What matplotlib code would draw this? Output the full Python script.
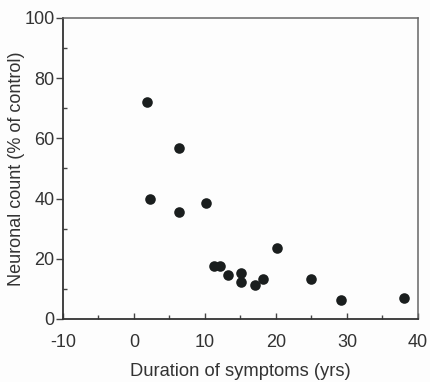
import matplotlib
matplotlib.use("Agg")
import matplotlib.pyplot as plt
from matplotlib.ticker import MultipleLocator

plt.rcParams['font.family'] = ['Liberation Sans', 'DejaVu Sans']
plt.rcParams['axes.unicode_minus'] = False

duration = [1.8, 2.3, 6.4, 6.4, 10.1, 11.3, 12.1, 13.2, 15.1, 15.1, 17.0, 18.2, 20.1, 25.0, 29.1, 38.1]
neuronal = [72.0, 39.8, 56.8, 35.5, 38.6, 17.6, 17.6, 14.6, 15.4, 12.3, 11.3, 13.2, 23.5, 13.2, 6.3, 6.9]

fig = plt.figure(figsize=(4.30, 3.82), dpi=100)
fig.patch.set_facecolor('#fdfdfd')
ax = fig.add_axes([0.1465, 0.165, 0.8255, 0.788])
ax.set_facecolor('#fdfdfd')

ax.scatter(duration, neuronal, s=58, color='#1a1e1e', zorder=3, linewidths=0)

ax.set_xlim(-10, 40)
ax.set_ylim(0, 100)
ax.xaxis.set_major_locator(MultipleLocator(10))
ax.xaxis.set_minor_locator(MultipleLocator(5))
ax.yaxis.set_major_locator(MultipleLocator(20))
ax.yaxis.set_minor_locator(MultipleLocator(10))

for s in ['left', 'bottom']:
    ax.spines[s].set_color('#333333')
    ax.spines[s].set_linewidth(1.3)
for s in ['top', 'right']:
    ax.spines[s].set_color('#666666')
    ax.spines[s].set_linewidth(1.1)

ax.tick_params(axis='x', which='major', direction='in', length=4, width=1, color='#444444',
               labelsize=13, labelcolor='#333333', pad=11)
ax.tick_params(axis='x', which='minor', direction='in', length=3, width=1, color='#444444')
ax.tick_params(axis='y', which='major', direction='out', length=5, width=1, color='#444444',
               labelsize=13, labelcolor='#333333', pad=1)
ax.tick_params(axis='y', which='minor', direction='in', length=3, width=1, color='#444444')

ax.set_xlabel('Duration of symptoms (yrs)', fontsize=13.2, color='#333333')
ax.set_ylabel('Neuronal count (% of control)', fontsize=13, color='#333333')
ax.xaxis.set_label_coords(0.5, -0.147)
ax.yaxis.set_label_coords(-0.107, 0.5)

fig.savefig('out.png', dpi=100, facecolor=fig.get_facecolor())
